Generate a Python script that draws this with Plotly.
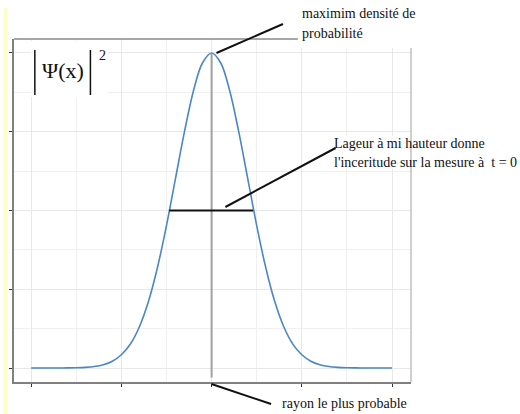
import plotly.graph_objects as go

# Probability density |Psi(x)|^2 of a Gaussian wave packet, sampled along x
x_vals = [-2.0, -1.9, -1.8, -1.7, -1.6, -1.5, -1.4, -1.3, -1.2, -1.1,
          -1.0, -0.9, -0.8, -0.7, -0.6, -0.5, -0.4, -0.3, -0.2, -0.1,
          0.0,
          0.1, 0.2, 0.3, 0.4, 0.5, 0.6, 0.7, 0.8, 0.9, 1.0,
          1.1, 1.2, 1.3, 1.4, 1.5, 1.6, 1.7, 1.8, 1.9, 2.0]
density = [0.0, 0.0, 0.0, 0.0001, 0.0003, 0.0008, 0.002, 0.0047, 0.0103, 0.0215,
           0.042, 0.076, 0.131, 0.211, 0.319, 0.452, 0.602, 0.751, 0.881, 0.969,
           1.0,
           0.969, 0.881, 0.751, 0.602, 0.452, 0.319, 0.211, 0.131, 0.076, 0.042,
           0.0215, 0.0103, 0.0047, 0.002, 0.0008, 0.0003, 0.0001, 0.0, 0.0, 0.0]

# Most probable position and the half-maximum width
peak_x = 0.0
peak_y = 1.0
half_max = 0.5
half_bounds = [-0.47, 0.46]

label_max = ["maximim densité de", "probabilité"]
label_width = ["Lageur à mi hauteur donne", "l'inceritude sur la mesure à  t = 0"]
label_radius = "rayon le plus probable"

SERIF = "'Liberation Serif', 'Times New Roman', Times, 'DejaVu Serif', serif"
FIG_W, FIG_H = 520, 414
M_L, M_R, M_T, M_B = 11, 109, 39, 32
PLOT_W = FIG_W - M_L - M_R
PLOT_H = FIG_H - M_T - M_B


def px(p):
    """Horizontal pixel position -> paper coordinate."""
    return (p - M_L) / PLOT_W


def py(p):
    """Vertical pixel position (from top) -> paper coordinate."""
    return (FIG_H - M_B - p) / PLOT_H


fig = go.Figure()
fig.add_trace(go.Scatter(
    x=x_vals, y=density, mode="lines",
    line=dict(color="#4a87c4", width=1.6, shape="spline"),
    hoverinfo="skip",
))

shapes = []
# pale yellow strip along the left edge of the page
shapes.append(dict(type="rect", xref="paper", yref="paper",
                   x0=px(1), x1=px(4), y0=py(8), y1=py(414),
                   fillcolor="#fdfdc6", line=dict(width=0), layer="below"))
# vertical line through the maximum
shapes.append(dict(type="line", xref="x", yref="y",
                   x0=peak_x, x1=peak_x, y0=peak_y, y1=-0.03,
                   line=dict(color="#a0a0a0", width=2)))
# full width at half maximum
shapes.append(dict(type="line", xref="x", yref="y",
                   x0=half_bounds[0], x1=half_bounds[1], y0=half_max, y1=half_max,
                   line=dict(color="#111111", width=2)))
# white label backgrounds
shapes.append(dict(type="rect", xref="paper", yref="paper",
                   x0=px(28), x1=px(106), y0=py(41), y1=py(97),
                   fillcolor="white", line=dict(width=0)))
shapes.append(dict(type="rect", xref="paper", yref="paper",
                   x0=px(333), x1=px(518), y0=py(136), y1=py(169),
                   fillcolor="white", line=dict(width=0)))
# panel border, top and right
shapes.append(dict(type="line", xref="paper", yref="paper",
                   x0=0, x1=1, y0=1, y1=1,
                   line=dict(color="#8a8a8a", width=1.5)))
shapes.append(dict(type="line", xref="paper", yref="paper",
                   x0=1, x1=1, y0=0, y1=1,
                   line=dict(color="#cfcfcf", width=2)))
shapes.append(dict(type="rect", xref="paper", yref="paper",
                   x0=px(297), x1=px(520), y0=py(0), y1=py(48),
                   fillcolor="white", line=dict(width=0)))
# bars of the modulus |...|
for bx in (32, 88):
    shapes.append(dict(type="line", xref="paper", yref="paper",
                       x0=px(bx), x1=px(bx), y0=py(50), y1=py(95),
                       line=dict(color="#111111", width=1.5)))
# pointer lines to the labels
pointers = [((215, 53), (282, 24)),
            ((224, 207), (335, 148)),
            ((210, 384), (270, 404))]
for (ax0, ay0), (ax1, ay1) in pointers:
    shapes.append(dict(type="line", xref="paper", yref="paper",
                       x0=px(ax0), y0=py(ay0), x1=px(ax1), y1=py(ay1),
                       line=dict(color="#111111", width=2)))

annotations = []


def add_text(text, x, y, size=14):
    annotations.append(dict(text=text, xref="paper", yref="paper",
                            x=px(x), y=py(y), xanchor="left", yanchor="middle",
                            showarrow=False,
                            font=dict(family=SERIF, size=size, color="#111111")))


add_text(label_max[0], 299, 14)
add_text(label_max[1], 299, 33)
add_text(label_width[0], 331, 143)
add_text(label_width[1], 331, 162)
add_text(label_radius, 279, 403)
add_text("Ψ(x)", 37, 70, size=22)
add_text("2", 95, 55, size=14)

fig.update_layout(
    width=FIG_W, height=FIG_H,
    margin=dict(l=M_L, r=M_R, t=M_T, b=M_B, pad=0),
    plot_bgcolor="white", paper_bgcolor="white",
    showlegend=False,
    font=dict(family=SERIF),
    shapes=shapes,
    annotations=annotations,
)
fig.update_xaxes(
    range=[-2.19, 2.21], tick0=0, dtick=1,
    showticklabels=False, ticks="outside", ticklen=3, tickwidth=1, tickcolor="#333333",
    showgrid=True, gridcolor="#e8e8e8", gridwidth=1,
    minor=dict(tick0=0, dtick=0.5, showgrid=True, gridcolor="#f0f0f0", gridwidth=1),
    zeroline=False, showline=True, linecolor="#808080", linewidth=1.5,
)
fig.update_yaxes(
    range=[-0.0444, 1.0444], tick0=0, dtick=0.25,
    showticklabels=False, ticks="outside", ticklen=3, tickwidth=1, tickcolor="#333333",
    showgrid=True, gridcolor="#e8e8e8", gridwidth=1,
    minor=dict(tick0=0, dtick=0.125, showgrid=True, gridcolor="#f0f0f0", gridwidth=1),
    zeroline=False, showline=True, linecolor="#808080", linewidth=1.5,
)

fig.write_html("out.html")
